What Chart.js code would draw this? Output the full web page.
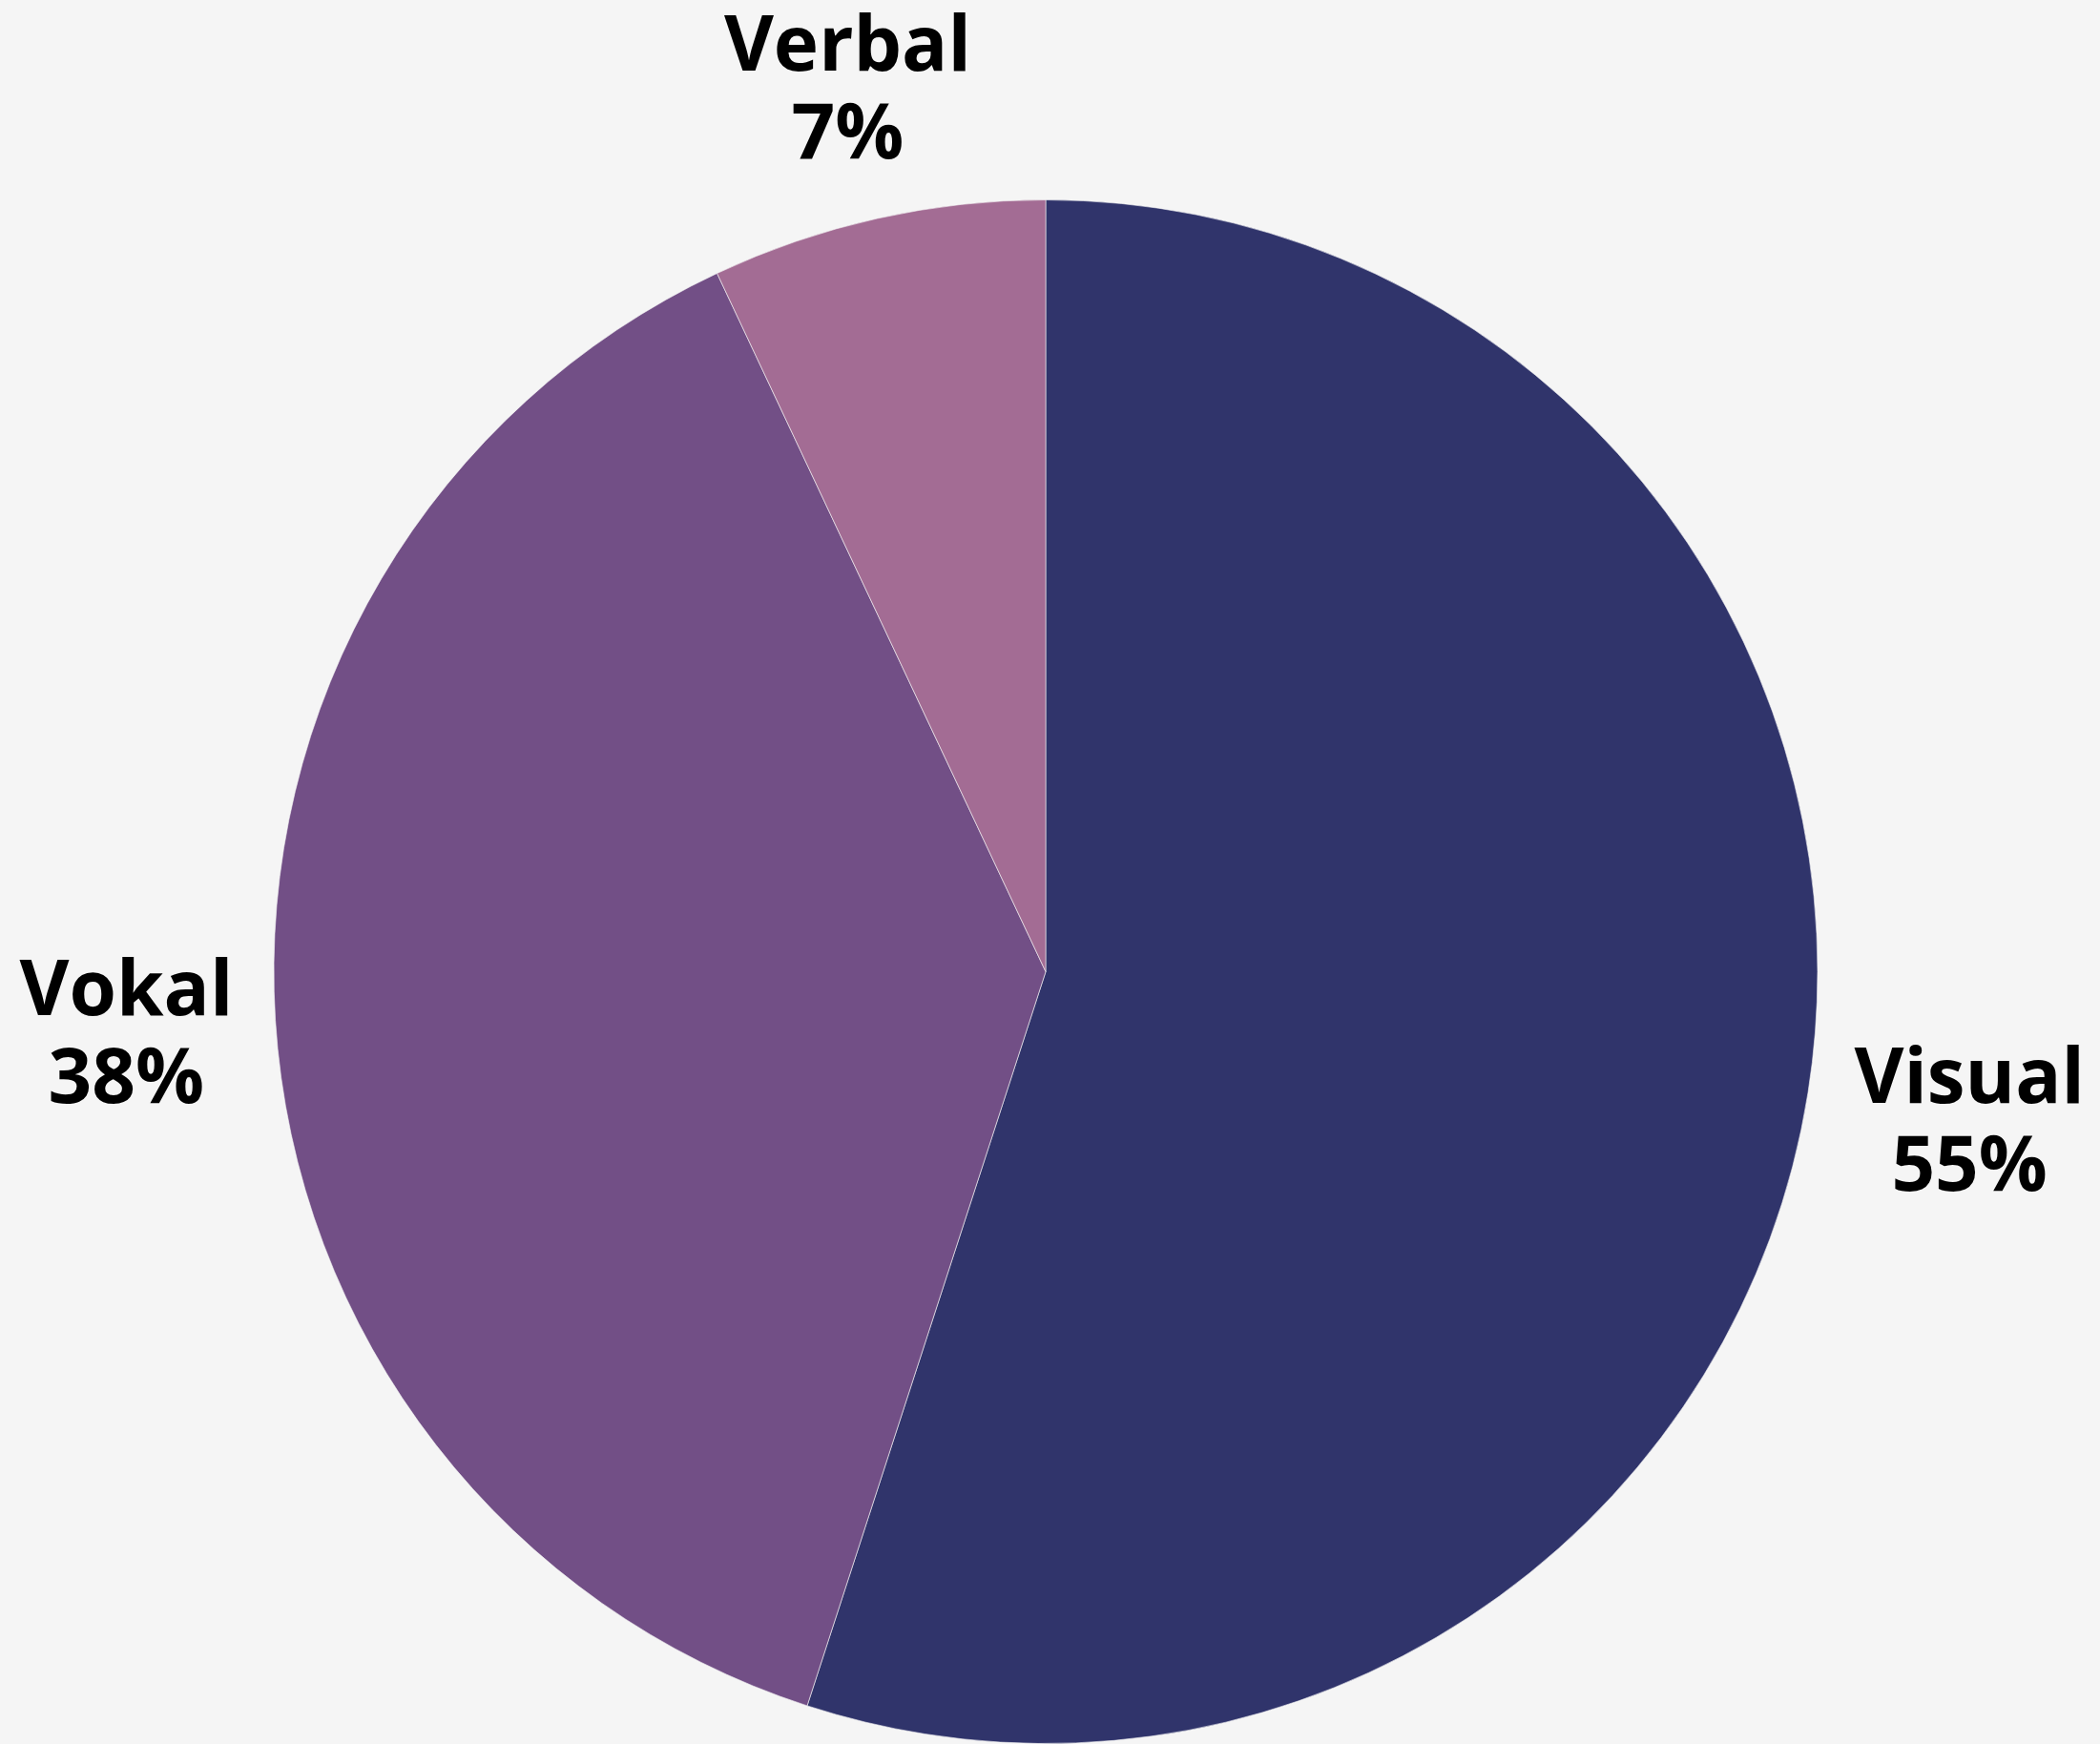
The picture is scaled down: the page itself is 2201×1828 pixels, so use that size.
<!DOCTYPE html>
<html>
<head>
<meta charset="utf-8">
<script src="https://cdn.jsdelivr.net/npm/chart.js@4"></script>
<style>
  html, body { margin: 0; padding: 0; background: #f5f5f5; }
  #wrap { width: 2201px; height: 1828px; position: relative; }
</style>
</head>
<body>
<div id="wrap"><canvas id="c" width="2201" height="1828"></canvas></div>
<script>
const categories = ["Visual", "Vokal", "Verbal"];
const values = [55, 38, 7];
const sliceColors = ["#30346b", "#724f86", "#a36c94"];

const outsideLabels = {
  id: 'outsideLabels',
  afterDatasetsDraw(chart) {
    const ctx = chart.ctx;
    const meta = chart.getDatasetMeta(0);
    const total = values.reduce((a, b) => a + b, 0);
    ctx.save();
    ctx.font = '700 80px "Open Sans"';
    ctx.fillStyle = '#000';
    ctx.textAlign = 'center';
    ctx.textBaseline = 'alphabetic';
    meta.data.forEach((arc, i) => {
      const p = arc.getProps(['x', 'y', 'startAngle', 'endAngle', 'outerRadius'], true);
      const mid = (p.startAngle + p.endAngle) / 2;
      const cos = Math.cos(mid), sin = Math.sin(mid);
      const lines = [categories[i], Math.round(values[i] / total * 100) + '%'];
      const w = Math.max(...lines.map(t => ctx.measureText(t).width));
      const h = 153;
      const ext = w / 2 * Math.abs(cos) + h / 2 * Math.abs(sin);
      const d = p.outerRadius + 40 + ext;
      const cx = p.x + cos * d;
      const cy = p.y + sin * d;
      ctx.fillText(lines[0], cx, cy - 15.5);
      ctx.fillText(lines[1], cx, cy + 76.5);
    });
    ctx.restore();
  }
};

new Chart(document.getElementById('c'), {
  type: 'pie',
  data: {
    labels: categories,
    datasets: [{
      data: values,
      backgroundColor: sliceColors,
      borderColor: 'rgba(245,245,245,0.6)',
      borderWidth: 1
    }]
  },
  options: {
    responsive: false,
    animation: false,
    devicePixelRatio: 1,
    layout: { padding: { top: 209, left: 0, right: 9, bottom: -1 } },
    plugins: {
      legend: { display: false },
      tooltip: { enabled: false }
    }
  },
  plugins: [outsideLabels]
});
</script>
</body>
</html>
